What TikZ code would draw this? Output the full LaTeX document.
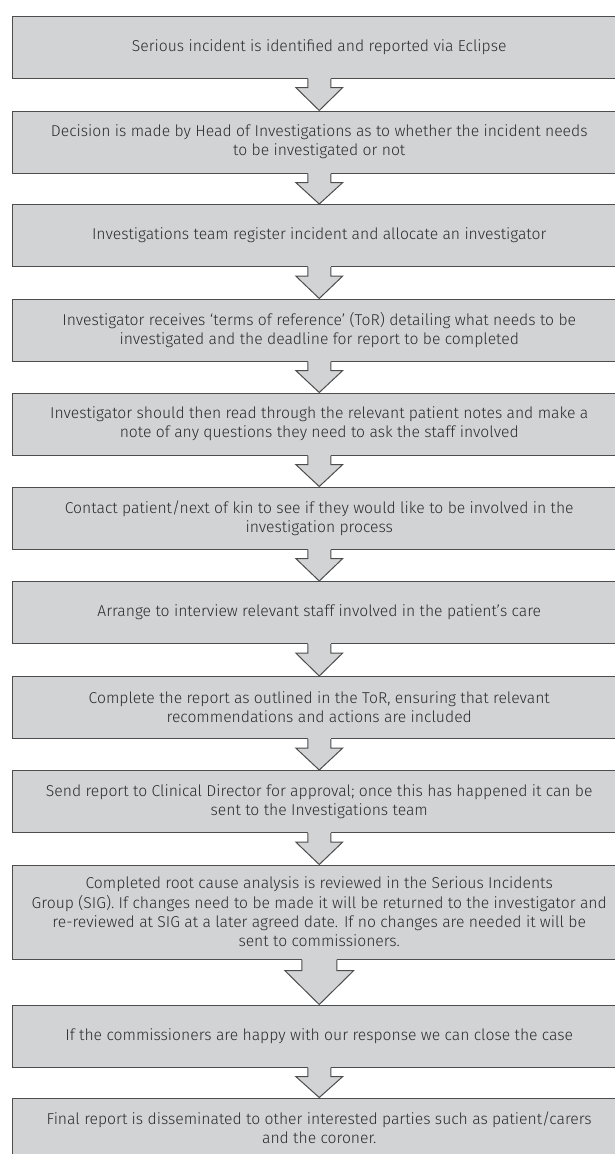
\documentclass[tikz,border=0pt]{standalone}
\usepackage{fontspec}
\setmainfont{Fira Sans Light}
\usetikzlibrary{calc}
\definecolor{boxfill}{HTML}{D1D3D4}
\definecolor{boxline}{HTML}{4D4D4D}
\definecolor{txt}{HTML}{2B2B2B}
\tikzset{
  stepbox/.style={draw=boxline, line width=1pt, fill=boxfill, minimum width=613.5pt,
    minimum height=62pt, inner sep=0pt, align=center, text=txt,
    font=\fontsize{15.7}{19.3}\selectfont},
  arrowline/.style={draw=boxline, line width=1pt, line join=miter},
}
\newcommand{\blockarrow}[6]{% from node, to node, shaft half, head half, shaft length
  \fill[boxfill] ($(#1.south)+(-#3,-1.2)$) -- ($(#1.south)+(-#3,#5)$) -- ($(#1.south)+(-#4,#5)$)
    -- (#2.north) -- ($(#1.south)+(#4,#5)$) -- ($(#1.south)+(#3,#5)$) -- ($(#1.south)+(#3,-1.2)$) -- cycle;
  \draw[arrowline] ($(#1.south)+(-#3,0)$) -- ($(#1.south)+(-#3,#5)$) -- ($(#1.south)+(-#4,#5)$)
    -- (#2.north) -- ($(#1.south)+(#4,#5)$) -- ($(#1.south)+(#3,#5)$) -- ($(#1.south)+(#3,0)$);
}
\begin{document}
\begin{tikzpicture}[x=1pt,y=-1pt]
\useasboundingbox (0,0) rectangle (615,1154);
\clip (0,0) rectangle (615,1154);
\node[stepbox] (b1) at (319.25,47) {Serious incident is identified and reported via Eclipse};
\node[stepbox] (b2) at (319.25,142) {Decision is made by Head of Investigations as to whether the incident needs\\to be investigated or not};
\node[stepbox] (b3) at (319.25,235.5) {Investigations team register incident and allocate an investigator};
\node[stepbox] (b4) at (319.25,330) {Investigator receives ‘terms of reference’ (ToR) detailing what needs to be\\investigated and the deadline for report to be completed};
\node[stepbox] (b5) at (319.25,424) {Investigator should then read through the relevant patient notes and make a\\note of any questions they need to ask the staff involved};
\node[stepbox] (b6) at (319.25,518) {Contact patient/next of kin to see if they would like to be involved in the\\investigation process};
\node[stepbox] (b7) at (319.25,612.5) {Arrange to interview relevant staff involved in the patient's care};
\node[stepbox] (b8) at (319.25,707.5) {Complete the report as outlined in the ToR, ensuring that relevant\\recommendations and actions are included};
\node[stepbox] (b9) at (319.25,801.5) {Send report to Clinical Director for approval; once this has happened it can be\\sent to the Investigations team};
\node[stepbox, minimum height=94pt] (b10) at (319.25,912) {Completed root cause analysis is reviewed in the Serious Incidents\\Group (SIG). If changes need to be made it will be returned to the investigator and\\re-reviewed at SIG at a later agreed date. If no changes are needed it will be\\sent to commissioners.};
\node[stepbox] (b11) at (319.25,1036) {If the commissioners are happy with our response we can close the case};
\node[stepbox, minimum height=60pt] (b12) at (319.25,1128) {Final report is disseminated to other interested parties such as patient/carers\\and the coroner.};
\blockarrow{b1}{b2}{11.5}{23.5}{9}{}
\blockarrow{b2}{b3}{11.5}{23.5}{9}{}
\blockarrow{b3}{b4}{11.5}{23.5}{9}{}
\blockarrow{b4}{b5}{11.5}{23.5}{9}{}
\blockarrow{b5}{b6}{11.5}{23.5}{9}{}
\blockarrow{b6}{b7}{11.5}{23.5}{9}{}
\blockarrow{b7}{b8}{11.5}{23.5}{9}{}
\blockarrow{b8}{b9}{11.5}{23.5}{9}{}
\blockarrow{b9}{b10}{11.5}{23.5}{9}{}
\blockarrow{b10}{b11}{17.5}{34.5}{11}{}
\blockarrow{b11}{b12}{11.5}{23.5}{9}{}
\end{tikzpicture}
\end{document}
